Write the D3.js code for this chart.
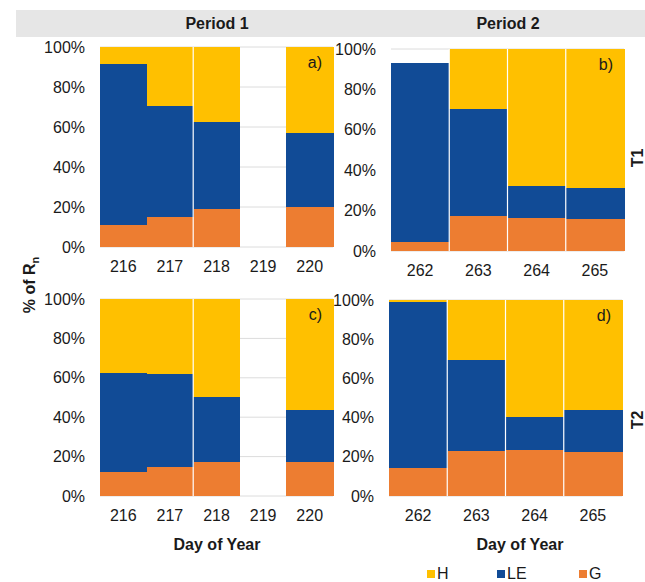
<!DOCTYPE html>
<html>
<head>
<meta charset="utf-8">
<script src="https://cdn.jsdelivr.net/npm/d3@7"></script>
<style>
  body { margin: 0; background: #fff; }
  text { font-family: "Liberation Sans", Arial, Helvetica, sans-serif; fill: #1a1a1a; }
</style>
</head>
<body>
<svg id="svgx" width="645" height="582"></svg>
<script>
// ****************************** data (percent of Rn)
const days1 = ["216", "217", "218", "219", "220"];
const days2 = ["262", "263", "264", "265"];
const seriesKeys = ["G", "LE", "H"];
const legendKeys = ["H", "LE", "G"];
const yTicks = [0, 20, 40, 60, 80, 100];

// T1, period 1  (219 missing)
const aG  = [11.0, 15.0, 19.0, null, 20.0];
const aLE = [80.5, 55.7, 43.7, null, 37.0];
const aH  = [8.5, 29.3, 37.3, null, 43.0];
// T1, period 2
const bG  = [4.3, 17.5, 16.2, 15.7];
const bLE = [89.0, 53.0, 16.0, 15.6];
const bH  = [0.0, 29.5, 67.8, 68.7];
// T2, period 1
const cG  = [12.3, 14.9, 17.4, null, 17.4];
const cLE = [50.0, 47.0, 32.7, null, 26.3];
const cH  = [37.7, 38.1, 49.9, null, 56.3];
// T2, period 2
const dG  = [14.2, 23.2, 23.5, 22.4];
const dLE = [85.0, 46.0, 17.0, 21.6];
const dH  = [0.8, 30.8, 59.4, 56.0];

const colors = { H: "#FFC000", LE: "#114B96", G: "#ED7D31" };
const fontsize = 16;

var svg = d3.select("#svgx");

// ****************************** header band
svg.append("rect")
  .attr("x", 16).attr("y", 10)
  .attr("width", 629).attr("height", 27)
  .attr("fill", "#e6e6e6");

svg.selectAll(".period").data(["Period 1", "Period 2"])
  .enter().append("text")
  .attr("class", "period")
  .attr("x", (d, i) => i === 0 ? 217 : 508)
  .attr("y", 29)
  .attr("text-anchor", "middle")
  .style("font-size", fontsize)
  .style("font-weight", 700)
  .text(d => d);

// ****************************** panels
const panels = [
  { days: days1, seps: ["218"], G: aG, LE: aLE, H: aH, x0: 100, x1: 333, y0: 247, y1: 47, tag: "a)" },
  { days: days2, seps: ["263", "264", "265"], G: bG, LE: bLE, H: bH, x0: 391, x1: 624, y0: 251, y1: 49, tag: "b)" },
  { days: days1, seps: ["218"], G: cG, LE: cLE, H: cH, x0: 100, x1: 333, y0: 496, y1: 299, tag: "c)" },
  { days: days2, seps: ["263", "264", "265"], G: dG, LE: dLE, H: dH, x0: 389, x1: 622, y0: 496, y1: 300, tag: "d)" }
];

function drawPanel(p) {
  const g = svg.append("g");

  var xScale = d3.scaleBand().domain(p.days).range([p.x0, p.x1]).padding(0);
  var yScale = d3.scaleLinear().domain([0, 100]).range([p.y0, p.y1]);

  // gridlines
  g.selectAll(".grid").data(yTicks)
    .enter().append("line")
    .attr("x1", p.x0).attr("x2", p.x1)
    .attr("y1", d => yScale(d)).attr("y2", d => yScale(d))
    .attr("stroke", "#dcdcdc").attr("stroke-width", 1);

  // y tick labels
  const yAxis = d3.axisLeft(yScale).tickValues(yTicks)
    .tickFormat(d => d + "%").tickSize(0).tickPadding(15);
  const yAxisG = g.append("g")
    .attr("transform", `translate(${p.x0},0)`)
    .call(yAxis);
  yAxisG.select(".domain").remove();
  yAxisG.selectAll("text")
    .style("font-size", fontsize)
    .style("font-family", "Liberation Sans, Arial, sans-serif")
    .attr("fill", "#1a1a1a");

  // x tick labels
  const xAxis = d3.axisBottom(xScale).tickSize(0).tickPadding(14);
  const xAxisG = g.append("g")
    .attr("transform", `translate(0,${p.y0})`)
    .call(xAxis);
  xAxisG.select(".domain").remove();
  xAxisG.selectAll("text")
    .style("font-size", fontsize)
    .style("font-family", "Liberation Sans, Arial, sans-serif")
    .attr("fill", "#1a1a1a");

  // stacked bars
  const table = p.days.map((day, i) => ({ day: day, G: p.G[i], LE: p.LE[i], H: p.H[i] }))
    .filter(d => d.G !== null);
  const stacked = d3.stack().keys(seriesKeys)(table);

  g.selectAll(".layer").data(stacked)
    .enter().append("g")
    .attr("fill", d => colors[d.key])
    .selectAll("rect").data(d => d)
    .enter().append("rect")
    .attr("x", d => xScale(d.data.day))
    .attr("width", xScale.bandwidth() + 0.5)
    .attr("y", d => yScale(d[1]))
    .attr("height", d => yScale(d[0]) - yScale(d[1]))
    .attr("shape-rendering", "crispEdges");

  // white separators between days
  g.selectAll(".sep").data(p.seps)
    .enter().append("line")
    .attr("x1", d => xScale(d)).attr("x2", d => xScale(d))
    .attr("y1", p.y1).attr("y2", p.y0)
    .attr("stroke", "#fff").attr("stroke-width", 1.2);

  // panel tag
  g.append("text")
    .attr("x", p.x1 - 11)
    .attr("y", p.y1 + 21)
    .attr("text-anchor", "end")
    .style("font-size", fontsize)
    .text(p.tag);
}

panels.forEach(drawPanel);

// ****************************** axis titles
svg.selectAll(".xtitle").data([217, 520])
  .enter().append("text")
  .attr("class", "xtitle")
  .attr("x", d => d)
  .attr("y", 550)
  .attr("text-anchor", "middle")
  .style("font-size", fontsize)
  .style("font-weight", 700)
  .text("Day of Year");

const ylab = svg.append("text")
  .attr("transform", "translate(35,285) rotate(-90)")
  .attr("text-anchor", "middle")
  .style("font-size", fontsize)
  .style("font-weight", 700);
ylab.append("tspan").text("% of R");
ylab.append("tspan").attr("dy", 4).style("font-size", 11).text("n");

svg.selectAll(".trow").data([{ t: "T1", y: 158 }, { t: "T2", y: 420 }])
  .enter().append("text")
  .attr("class", "trow")
  .attr("transform", d => `translate(643,${d.y}) rotate(-90)`)
  .attr("text-anchor", "middle")
  .style("font-size", fontsize)
  .style("font-weight", 700)
  .text(d => d.t);

// ****************************** legend
const legendX = { H: 427, LE: 497, G: 579 };
var legend = svg.selectAll("g.legend").data(legendKeys)
  .enter().append("g")
  .attr("class", "legend");

legend.append("rect")
  .attr("x", d => legendX[d])
  .attr("y", 570)
  .attr("width", 8).attr("height", 8)
  .attr("fill", d => colors[d]);

legend.append("text")
  .attr("x", d => legendX[d] + 10)
  .attr("y", 579)
  .style("font-size", fontsize)
  .text(d => d);
</script>
</body>
</html>
